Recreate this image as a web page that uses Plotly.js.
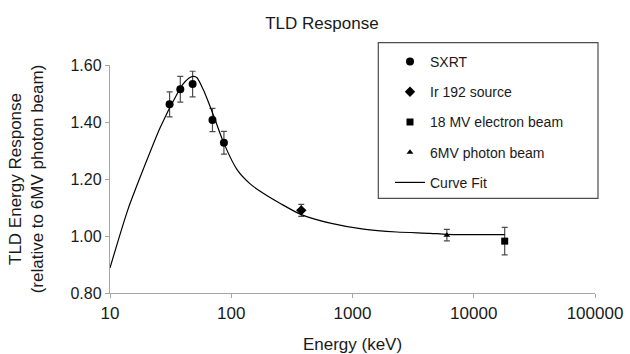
<!DOCTYPE html>
<html>
<head>
<meta charset="utf-8">
<script src="https://cdn.plot.ly/plotly-3.0.1.min.js"></script>
<style>html,body{margin:0;padding:0;background:#fff;}#chart{width:630px;height:354px;}</style>
</head>
<body>
<div id="chart"></div>
<script>
// SXRT measurements
var sxrtE = [31, 38, 48, 70, 87];
var sxrtR = [1.462, 1.515, 1.533, 1.407, 1.327];
var sxrtErr = [0.044, 0.045, 0.045, 0.041, 0.040];
// Ir 192 source
var irE = [378];
var irR = [1.090];
var irErr = [0.021];
// 18 MV electron beam
var e18E = [18000];
var e18R = [0.982];
var e18Err = [0.048];
// 6MV photon beam
var p6E = [6000];
var p6R = [1.003];
var p6Err = [0.020];
// Curve fit
var fitE = [10, 14, 19, 26, 36, 40, 46, 49, 52, 59, 72, 87, 112, 144, 185, 254, 378, 655, 1233, 2323, 4365, 6000, 18000];
var fitR = [0.888, 1.091, 1.239, 1.382, 1.501, 1.533, 1.557, 1.560, 1.556, 1.512, 1.419, 1.325, 1.232, 1.182, 1.149, 1.114, 1.075, 1.045, 1.024, 1.014, 1.0095, 1.006, 1.005];
// Axis ticks
var xTickVals = [10, 100, 1000, 10000, 100000];
var xTickText = ['10', '100', '1000', '10000', '100000'];
var yTickVals = [0.8, 1.0, 1.2, 1.4, 1.6];
var yTickText = ['0.80', '1.00', '1.20', '1.40', '1.60'];

var txt = '#1a1a1a';
var errStyle = {type: 'data', symmetric: true, color: '#4d4d4d', thickness: 1.2, width: 3};
function err(a){ var o = Object.assign({}, errStyle); o.array = a; return o; }

var traces = [
  {x: sxrtE, y: sxrtR, name: 'SXRT', type: 'scatter', mode: 'markers', legendgroup: 'a',
   marker: {symbol: 'circle', size: 8, color: '#000'}, error_y: err(sxrtErr)},
  {x: irE, y: irR, name: 'Ir 192 source', type: 'scatter', mode: 'markers', legendgroup: 'b',
   marker: {symbol: 'diamond', size: 8, color: '#000'}, error_y: err(irErr)},
  {x: e18E, y: e18R, name: '18 MV electron beam', type: 'scatter', mode: 'markers', legendgroup: 'c',
   marker: {symbol: 'square', size: 7, color: '#000'}, error_y: err(e18Err)},
  {x: p6E, y: p6R, name: '6MV photon beam', type: 'scatter', mode: 'markers', legendgroup: 'd',
   marker: {symbol: 'triangle-up', size: 6, color: '#000'}, error_y: err(p6Err)},
  {x: fitE, y: fitR, name: 'Curve Fit', type: 'scatter', mode: 'lines', legendgroup: 'e',
   line: {color: '#000', width: 1.2, shape: 'spline', smoothing: 0.7}}
];

var layout = {
  width: 630, height: 354,
  margin: {l: 110, r: 35, t: 65, b: 61},
  paper_bgcolor: '#fff', plot_bgcolor: '#fff',
  font: {family: 'Liberation Sans, Arial, sans-serif', color: txt, size: 16},
  title: {text: 'TLD Response', x: 0.511, xref: 'container', xanchor: 'center',
          y: 0.935, yref: 'container', yanchor: 'middle',
          font: {size: 17, color: txt}},
  xaxis: {type: 'log', range: [1, 5], tickvals: xTickVals, ticktext: xTickText,
          showgrid: false, zeroline: false, showline: true, linecolor: '#a6a6a6', linewidth: 1.2,
          ticks: 'outside', ticklen: 4, tickcolor: '#a6a6a6', tickwidth: 1,
          tickfont: {size: 17, color: txt},
          title: {text: 'Energy (keV)', font: {size: 17, color: txt}, standoff: 18}},
  yaxis: {range: [0.8, 1.6], tickvals: yTickVals, ticktext: yTickText,
          showgrid: false, zeroline: false, showline: true, linecolor: '#a6a6a6', linewidth: 1.2,
          ticks: 'outside', ticklen: 4, tickcolor: '#a6a6a6', tickwidth: 1,
          tickfont: {size: 16, color: txt},
          title: {text: 'TLD Energy Response<br>(relative to 6MV photon beam)', font: {size: 17, color: txt}, standoff: 22}},
  showlegend: true,
  legend: {x: (390 - 110) / 485, xanchor: 'left', y: (293 - 46) / 228, yanchor: 'top',
           bgcolor: 'rgba(0,0,0,0)', borderwidth: 0, traceorder: 'grouped', tracegroupgap: 9,
           font: {size: 14, color: txt}},
  shapes: [{type: 'rect', xref: 'paper', yref: 'paper',
            x0: (378.3 - 110) / 485, x1: (598 - 110) / 485,
            y0: (293 - 198.3) / 228, y1: (293 - 42.7) / 228,
            line: {color: '#4d4d4d', width: 1.2}, fillcolor: 'rgba(0,0,0,0)'}]
};

Plotly.newPlot('chart', traces, layout, {displayModeBar: false, staticPlot: true});
</script>
</body>
</html>
